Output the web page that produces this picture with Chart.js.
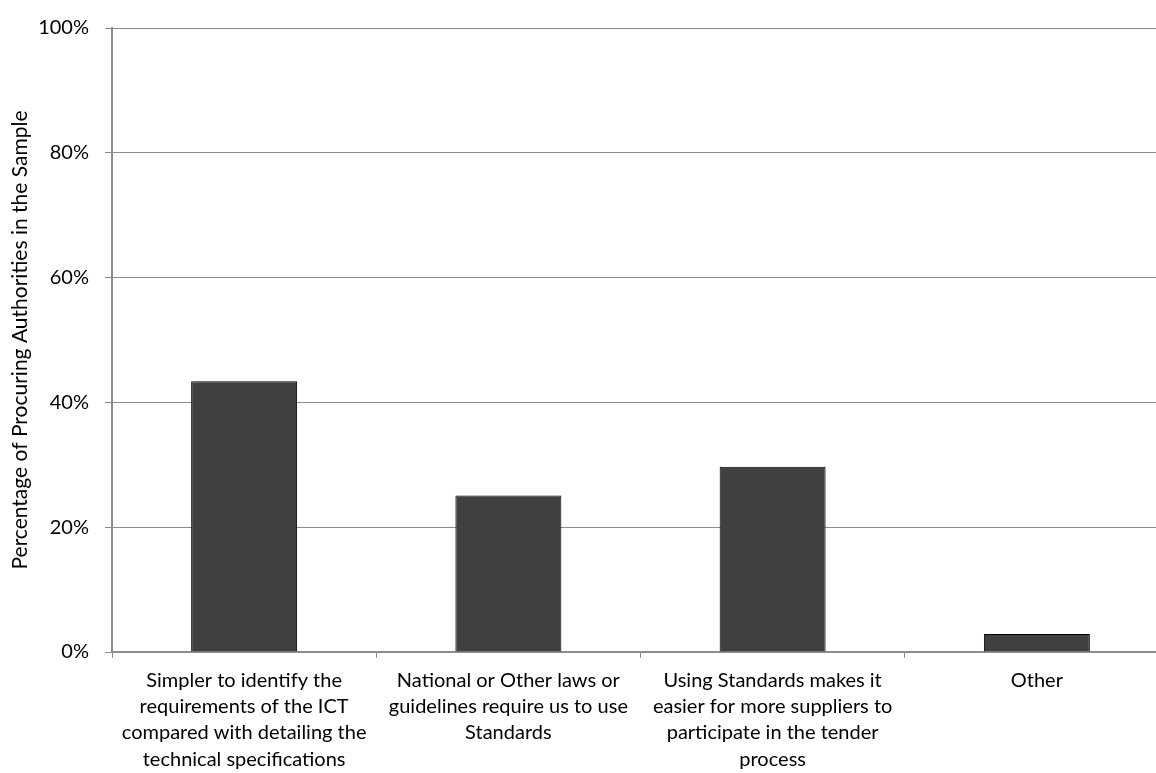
<!DOCTYPE html>
<html>
<head>
<meta charset="utf-8">
<script src="https://cdn.jsdelivr.net/npm/chart.js@4"></script>
<style>
html,body{margin:0;padding:0;background:#fff;overflow:hidden;}
#wrap{width:1156px;height:773px;overflow:hidden;position:relative;}
</style>
</head>
<body>
<div id="wrap"><canvas id="c" width="1169" height="773"></canvas></div>
<script>
const categories = [
  ["Simpler to identify the", "requirements of the ICT", "compared with detailing the", "technical specifications"],
  ["National or Other laws or", "guidelines require us to use", "Standards"],
  ["Using Standards makes it", "easier for more suppliers to", "participate in the tender", "process"],
  ["Other"]
];
const values = [43.4, 25.1, 29.7, 2.9];
const yTicks = [0, 20, 40, 60, 80, 100];
const yTitle = "Percentage of Procuring Authorities in the Sample";

const FONT = "Lato, Carlito, 'Open Sans', sans-serif";
const gridColor = "#8c8c8c";

new Chart(document.getElementById('c'), {
  type: 'bar',
  data: {
    labels: categories,
    datasets: [{
      data: values,
      backgroundColor: '#404040',
      borderColor: '#000000',
      borderWidth: 1,
      categoryPercentage: 1,
      barPercentage: 0.401
    }]
  },
  options: {
    responsive: false,
    animation: false,
    devicePixelRatio: 1,
    layout: { padding: { top: 23, right: 0, left: 0, bottom: 0 } },
    plugins: { legend: { display: false }, tooltip: { enabled: false } },
    scales: {
      x: {
        afterFit: s => { s.height = 121; },
        grid: { offset: true, drawOnChartArea: false, drawTicks: true, tickLength: 6, color: gridColor, lineWidth: 1 },
        border: { display: true, color: gridColor, width: 2 },
        ticks: {
          color: '#000', font: { family: FONT, size: 20, lineHeight: 1.32 }, padding: 9,
          maxRotation: 0, autoSkip: false
        }
      },
      y: {
        min: 0, max: 100,
        afterFit: s => { s.width = 112; },
        afterBuildTicks: s => { s.ticks = yTicks.map(v => ({ value: v })); },
        grid: { color: gridColor, lineWidth: 1, drawTicks: true, tickLength: 7 },
        border: { display: true, color: gridColor, width: 2 },
        ticks: {
          color: '#000', font: { family: FONT, size: 20 }, padding: 16,
          callback: v => v + '%'
        },
        title: {
          display: true, text: yTitle, color: '#000',
          font: { family: FONT, size: 21 }, padding: { top: 8, bottom: 0 }
        }
      }
    }
  }
});
</script>
</body>
</html>
